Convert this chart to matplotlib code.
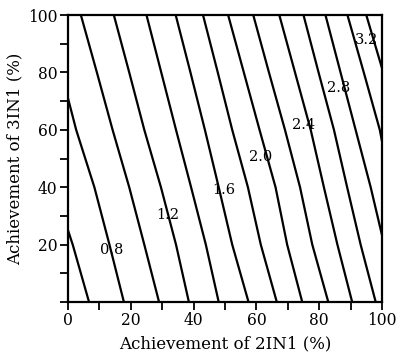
import matplotlib
matplotlib.use("Agg")
import matplotlib.pyplot as plt
from matplotlib.ticker import MultipleLocator

# contour levels (step 0.2)
levels = [0.6, 0.8, 1.0, 1.2, 1.4, 1.6, 1.8, 2.0, 2.2, 2.4, 2.6, 2.8, 3.0, 3.2]

# points along each contour line: 2IN1 (x) and 3IN1 (y) achievement, %
contour_x = [
    [6.7, 1.5, 0.0],
    [17.8, 13.2, 8.4, 2.6, 0.0],
    [29.0, 24.3, 19.5, 14.2, 9.2, 4.1],
    [38.5, 34.4, 29.6, 24.3, 19.5, 14.6],
    [48.0, 43.9, 39.2, 34.4, 29.7, 25.0],
    [57.5, 52.3, 48.0, 43.6, 39.0, 34.3],
    [66.5, 61.4, 57.3, 52.3, 47.7, 43.0],
    [74.6, 69.8, 66.1, 61.0, 56.0, 51.0],
    [82.9, 77.8, 73.9, 69.1, 64.0, 59.0],
    [90.5, 85.8, 81.5, 77.3, 72.3, 67.3],
    [98.0, 93.2, 88.9, 84.7, 79.8, 75.0],
    [100.0, 96.4, 91.6, 86.8, 82.0],
    [100.0, 99.3, 94.2, 89.0],
    [100.0, 95.0],
]
contour_y = [
    [0, 20, 25],
    [0, 20, 40, 60, 71],
    [0, 20, 40, 60, 80, 100],
    [0, 20, 40, 60, 80, 100],
    [0, 20, 40, 60, 80, 100],
    [0, 20, 40, 60, 80, 100],
    [0, 20, 40, 60, 80, 100],
    [0, 20, 40, 60, 80, 100],
    [0, 20, 40, 60, 80, 100],
    [0, 20, 40, 60, 80, 100],
    [0, 20, 40, 60, 80, 100],
    [23.3, 40, 60, 80, 100],
    [56, 60, 80, 100],
    [81.5, 100],
]

# in-line labels
label_text = ["0.8", "1.2", "1.6", "2.0", "2.4", "2.8", "3.2"]
label_x = [13.9, 31.9, 49.7, 61.3, 74.9, 86.1, 95.1]
label_y = [18.1, 30.3, 39.0, 50.6, 61.7, 74.5, 91.3]

plt.rcParams['font.family'] = ['DejaVu Serif']

fig = plt.figure(figsize=(3.96, 3.6), dpi=100)
ax = fig.add_axes([0.1717, 0.1611, 0.7929, 0.7972])

for xs, ys in zip(contour_x, contour_y):
    ax.plot(xs, ys, color='black', lw=1.6, solid_capstyle='butt')

for t, x, y in zip(label_text, label_x, label_y):
    ax.text(x, y, t, fontsize=10.5, ha='center', va='center')

ax.set_xlim(0, 100)
ax.set_ylim(0, 100)
ax.xaxis.set_major_locator(MultipleLocator(20))
ax.xaxis.set_minor_locator(MultipleLocator(10))
ax.yaxis.set_major_locator(MultipleLocator(20))
ax.yaxis.set_minor_locator(MultipleLocator(10))
ax.yaxis.set_major_formatter(plt.FuncFormatter(lambda v, p: '' if v == 0 else '%d' % v))
ax.tick_params(which='both', direction='out', length=5.5, width=1.3, labelsize=11.2, pad=2)
for s in ax.spines.values():
    s.set_linewidth(1.6)

ax.set_xlabel('Achievement of 2IN1 (%)', fontsize=12, labelpad=4)
ax.set_ylabel('Achievement of 3IN1 (%)', fontsize=12, labelpad=3)

fig.savefig('out.png', dpi=100)
